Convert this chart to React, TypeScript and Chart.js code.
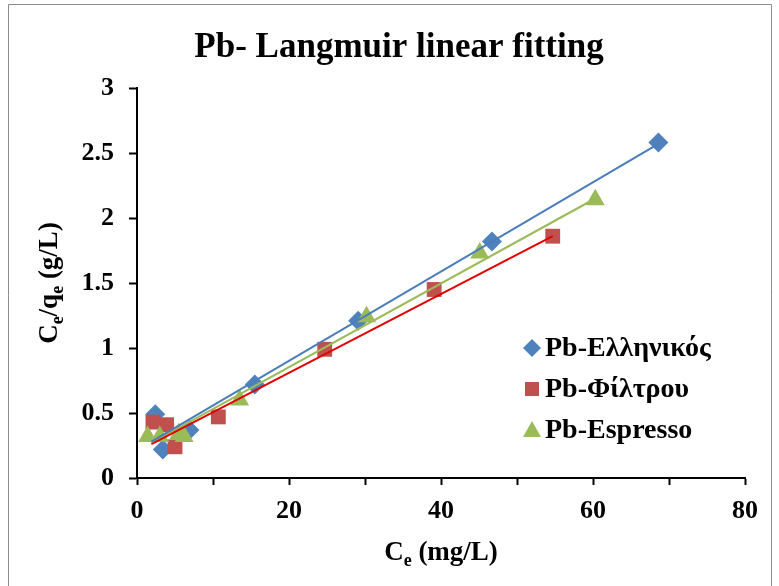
import React, { useEffect, useRef } from "react";
import { Chart, registerables } from "chart.js";

Chart.register(...registerables);

// ---- Data ----
const titleText = "Pb- Langmuir linear fitting";
const seriesNames = ["Pb-Ελληνικός", "Pb-Φίλτρου", "Pb-Espresso"];

const greekX = [2.4, 3.4, 6.9, 15.5, 29.1, 46.7, 68.6];
const greekY = [0.49, 0.22, 0.37, 0.72, 1.21, 1.82, 2.58];

const filterX = [2.1, 3.9, 5.0, 10.7, 24.7, 39.1, 54.7];
const filterY = [0.43, 0.41, 0.24, 0.47, 0.99, 1.45, 1.86];

const espressoX = [1.4, 3.0, 5.5, 6.2, 13.5, 30.2, 45.1, 60.3];
const espressoY = [0.32, 0.32, 0.34, 0.32, 0.6, 1.24, 1.73, 2.14];

// linear trend line end points (x, y)
const greekFitX = [1.9, 68.6];
const greekFitY = [0.28, 2.57];
const filterFitX = [1.9, 54.7];
const filterFitY = [0.26, 1.86];
const espressoFitX = [1.9, 60.3];
const espressoFitY = [0.27, 2.15];

const xTicksMin = 0;
const xTicksMax = 80;
const xStep = 10;
const yTicksMin = 0;
const yTicksMax = 3;
const yStep = 0.5;

const colors = {
  blue: "#4F81BD",
  red: "#C0504D",
  green: "#9BBB59",
  blueLine: "#4A7EBB",
  redLine: "#E00000",
  greenLine: "#9BBB59",
};

const FONT = "'Liberation Serif', 'Times New Roman', serif";

const toPts = (xs: number[], ys: number[]) => xs.map((x, i) => ({ x, y: ys[i] }));

type Part = { t: string; sub?: boolean };

function drawRich(ctx: CanvasRenderingContext2D, parts: Part[], size: number, cx: number, cy: number) {
  const subSize = Math.round(size * 0.65);
  let total = 0;
  const widths = parts.map((p) => {
    ctx.font = `bold ${p.sub ? subSize : size}px ${FONT}`;
    const w = ctx.measureText(p.t).width;
    total += w;
    return w;
  });
  let x = cx - total / 2;
  ctx.textBaseline = "alphabetic";
  ctx.textAlign = "left";
  parts.forEach((p, i) => {
    ctx.font = `bold ${p.sub ? subSize : size}px ${FONT}`;
    ctx.fillText(p.t, x, cy + (p.sub ? size * 0.22 : 0));
    x += widths[i];
  });
}

const decorPlugin = {
  id: "decor",
  beforeDraw(chart: any) {
    const ctx = chart.ctx as CanvasRenderingContext2D;
    ctx.save();
    ctx.fillStyle = "#ffffff";
    ctx.fillRect(0, 0, chart.width, chart.height);
    // outer frame
    ctx.strokeStyle = "#8c8c8c";
    ctx.lineWidth = 1;
    ctx.beginPath();
    ctx.moveTo(8.5, chart.height);
    ctx.lineTo(8.5, 4.5);
    ctx.lineTo(771.5, 4.5);
    ctx.lineTo(771.5, chart.height);
    ctx.stroke();
    ctx.restore();
  },
  afterDraw(chart: any) {
    const ctx = chart.ctx as CanvasRenderingContext2D;
    const area = chart.chartArea;
    ctx.save();
    ctx.fillStyle = "#000";
    // title
    ctx.font = `bold 35px ${FONT}`;
    ctx.textAlign = "center";
    ctx.textBaseline = "alphabetic";
    ctx.fillText(titleText, 399, 57);

    // x axis title
    drawRich(
      ctx,
      [{ t: "C" }, { t: "e", sub: true }, { t: " (mg/L)" }],
      27,
      (area.left + area.right) / 2,
      560
    );

    // y axis title (rotated)
    ctx.save();
    ctx.translate(57, (area.top + area.bottom) / 2);
    ctx.rotate(-Math.PI / 2);
    drawRich(
      ctx,
      [{ t: "C" }, { t: "e", sub: true }, { t: "/q" }, { t: "e", sub: true }, { t: " (g/L)" }],
      27,
      0,
      0
    );
    ctx.restore();

    // legend
    const items = [
      { name: seriesNames[0], style: "rectRot", r: 9, color: colors.blue },
      { name: seriesNames[1], style: "rect", r: 10, color: colors.red },
      { name: seriesNames[2], style: "triangle", r: 10, color: colors.green },
    ];
    const lx = 532;
    const rows = [348, 389, 430];
    items.forEach((it, i) => {
      ctx.fillStyle = it.color;
      ctx.strokeStyle = it.color;
      ctx.lineWidth = 1;
      const y = rows[i];
      ctx.beginPath();
      if (it.style === "rectRot") {
        ctx.moveTo(lx, y - it.r);
        ctx.lineTo(lx + it.r, y);
        ctx.lineTo(lx, y + it.r);
        ctx.lineTo(lx - it.r, y);
        ctx.closePath();
      } else if (it.style === "rect") {
        const s = 7;
        ctx.rect(lx - s, y - s, 2 * s, 2 * s);
      } else {
        ctx.moveTo(lx, y - 9);
        ctx.lineTo(lx + 9, y + 7);
        ctx.lineTo(lx - 9, y + 7);
        ctx.closePath();
      }
      ctx.fill();
      ctx.fillStyle = "#000";
      ctx.font = `bold 28px ${FONT}`;
      ctx.textAlign = "left";
      ctx.textBaseline = "middle";
      ctx.fillText(it.name, 545, y + 1);
    });
    ctx.restore();
  },
};

export default function App() {
  const ref = useRef<HTMLCanvasElement | null>(null);

  useEffect(() => {
    if (!ref.current) return;
    const chart = new Chart(ref.current, {
      type: "scatter",
      data: {
        datasets: [
          {
            type: "line",
            label: "fit1",
            data: toPts(greekFitX, greekFitY),
            borderColor: colors.blueLine,
            borderWidth: 2,
            pointRadius: 0,
            showLine: true,
            fill: false,
            order: 0,
          } as any,
          {
            type: "line",
            label: "fit2",
            data: toPts(filterFitX, filterFitY),
            borderColor: colors.redLine,
            borderWidth: 2,
            pointRadius: 0,
            showLine: true,
            fill: false,
            order: 0,
          } as any,
          {
            type: "line",
            label: "fit3",
            data: toPts(espressoFitX, espressoFitY),
            borderColor: colors.greenLine,
            borderWidth: 2,
            pointRadius: 0,
            showLine: true,
            fill: false,
            order: 0,
          } as any,
          {
            label: seriesNames[2],
            data: toPts(espressoX, espressoY),
            pointStyle: "triangle",
            pointRadius: 11,
            backgroundColor: colors.green,
            borderColor: colors.green,
            borderWidth: 0,
            order: 1,
          },
          {
            label: seriesNames[1],
            data: toPts(filterX, filterY),
            pointStyle: "rect",
            pointRadius: 10.5,
            backgroundColor: colors.red,
            borderColor: colors.red,
            borderWidth: 0,
            order: 2,
          },
          {
            label: seriesNames[0],
            data: toPts(greekX, greekY),
            pointStyle: "rectRot",
            pointRadius: 10,
            backgroundColor: colors.blue,
            borderColor: colors.blue,
            borderWidth: 0,
            order: 3,
          },
        ],
      },
      options: {
        animation: false,
        responsive: false,
        devicePixelRatio: 1,
        layout: { padding: { left: 0, top: 88, right: 34, bottom: 0 } },
        plugins: {
          legend: { display: false },
          title: { display: false },
          tooltip: { enabled: false },
        },
        scales: {
          x: {
            type: "linear",
            min: xTicksMin,
            max: xTicksMax,
            afterFit: (s: any) => {
              s.height = 108;
            },
            border: { display: true, color: "#000", width: 2 },
            grid: {
              drawOnChartArea: false,
              drawTicks: true,
              tickLength: 7,
              tickColor: "#000",
              tickWidth: 2,
            },
            ticks: {
              stepSize: xStep,
              color: "#000",
              padding: 11,
              font: { family: FONT, size: 26, weight: "bold" },
              callback: (v: any) => (Number(v) % 20 === 0 ? String(v) : ""),
            },
          },
          y: {
            type: "linear",
            min: yTicksMin,
            max: yTicksMax,
            afterFit: (s: any) => {
              s.width = 137;
            },
            border: { display: true, color: "#000", width: 2 },
            grid: {
              drawOnChartArea: false,
              drawTicks: true,
              tickLength: 8,
              tickColor: "#000",
              tickWidth: 2,
            },
            ticks: {
              stepSize: yStep,
              color: "#000",
              padding: 15,
              font: { family: FONT, size: 26, weight: "bold" },
              callback: (v: any) => String(v),
            },
          },
        },
      },
      plugins: [decorPlugin],
    });
    return () => chart.destroy();
  }, []);

  return (
    <div style={{ position: "absolute", left: 0, top: 0, width: 779, height: 586 }}>
      <canvas ref={ref} width={779} height={586} style={{ display: "block", width: 779, height: 586 }} />
    </div>
  );
}
